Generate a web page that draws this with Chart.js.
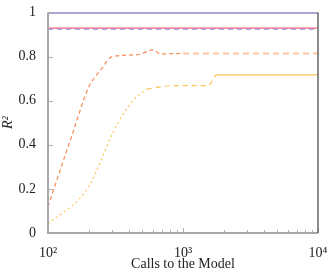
<!DOCTYPE html>
<html>
<head>
<meta charset="utf-8">
<script src="https://cdn.jsdelivr.net/npm/chart.js@4/dist/chart.umd.min.js"></script>
<style>
  html, body { margin: 0; padding: 0; background: #fff; }
  #wrap { width: 333px; height: 273px; }
</style>
</head>
<body>
<div id="wrap"><canvas id="r2Chart"></canvas></div>
<script>
// calls to the model (x) and R^2 values (y)
const callsOrange = [100, 150, 200, 250, 300, 460, 600, 680, 1000];
const r2Orange = [0.12, 0.44, 0.66, 0.745, 0.80, 0.808, 0.83, 0.812, 0.814];
const callsPeach = [1000, 10000];
const r2Peach = [0.814, 0.814];

const callsYellowDot = [100, 200, 300, 370, 440, 540];
const r2YellowDot = [0.04, 0.21, 0.45, 0.55, 0.61, 0.653];
const callsYellowDash = [540, 850, 1530, 1750];
const r2YellowDash = [0.653, 0.668, 0.668, 0.717];
const callsYellowSolid = [1750, 10000];
const r2YellowSolid = [0.717, 0.717];

const callsFlat = [100, 10000];
const r2Top = [1.0, 1.0];
const r2Red = [0.929, 0.929];
const r2Blue = [0.924, 0.924];

const yTicks = [0, 0.2, 0.4, 0.6, 0.8, 1];
const xMajor = { 100: "10²", 1000: "10³", 10000: "10⁴" };

function pts(xs, ys) {
    return xs.map((x, i) => ({ x: x, y: ys[i] }));
}

function line(xs, ys, color, width, dash, tension) {
    return {
        data: pts(xs, ys),
        borderColor: color,
        borderWidth: width,
        borderDash: dash,
        pointRadius: 0,
        fill: false,
        tension: tension || 0,
        cubicInterpolationMode: tension ? "monotone" : "default"
    };
}

// pgfplots-like frame with inward tick marks
const frame = {
    id: "frame",
    afterDatasetsDraw(chart) {
        const ctx = chart.ctx, a = chart.chartArea;
        const xs = chart.scales.x, ys = chart.scales.y;
        ctx.save();
        ctx.strokeStyle = "#b0b0b0";
        ctx.lineWidth = 1;
        ctx.beginPath();
        xs.ticks.forEach(t => {
            const px = Math.round(xs.getPixelForValue(t.value)) + 0.5;
            const len = xMajor[t.value] ? 5 : 3;
            ctx.moveTo(px, a.bottom); ctx.lineTo(px, a.bottom - len);
        });
        ys.ticks.forEach(t => {
            const py = Math.round(ys.getPixelForValue(t.value)) + 0.5;
            ctx.moveTo(a.left, py); ctx.lineTo(a.left + 5, py);
        });
        ctx.stroke();
        ctx.strokeStyle = "#a8a8a8";
        ctx.lineWidth = 2;
        ctx.beginPath();
        ctx.moveTo(a.left, a.top); ctx.lineTo(a.left, a.bottom); ctx.lineTo(a.right, a.bottom);
        ctx.stroke();
        ctx.strokeStyle = "#666";
        ctx.lineWidth = 1.5;
        ctx.beginPath();
        ctx.moveTo(a.right, a.bottom); ctx.lineTo(a.right, a.top);
        ctx.stroke();
        ctx.restore();
    }
};

const serif = "'Liberation Serif', 'DejaVu Serif', serif";

new Chart(document.getElementById("r2Chart"), {
    type: "line",
    data: {
        datasets: [
            line(callsFlat, r2Top, "#524aa8", 2, []),
            line(callsFlat, r2Red, "#f0607a", 1.2, []),
            line(callsFlat, r2Blue, "#a3aaf5", 1.5, [5, 4]),
            line(callsOrange, r2Orange, "#f58a52", 1.2, [4, 3], 0.4),
            line(callsPeach, r2Peach, "#fcc3a3", 2, [6, 4]),
            line(callsYellowDot, r2YellowDot, "#fcc451", 1.2, [2, 3], 0.4),
            line(callsYellowDash, r2YellowDash, "#fcc451", 1.2, [5, 4], 0.4),
            line(callsYellowSolid, r2YellowSolid, "#f7c45c", 1.2, [])
        ]
    },
    options: {
        responsive: true,
        maintainAspectRatio: false,
        animation: false,
        layout: { autoPadding: false, padding: { left: 0, right: 15, top: 9, bottom: 0 } },
        plugins: { legend: { display: false }, tooltip: { enabled: false } },
        scales: {
            x: {
                type: "logarithmic",
                min: 100,
                max: 10000,
                grid: { display: false },
                border: { display: false },
                afterBuildTicks(scale) {
                    const t = [];
                    for (let d = 100; d < 10000; d *= 10)
                        for (let k = 1; k < 10; k++) t.push({ value: d * k });
                    t.push({ value: 10000 });
                    scale.ticks = t;
                },
                afterFit(scale) { scale.height = 40; },
                ticks: {
                    autoSkip: false,
                    maxRotation: 0,
                    padding: 4,
                    color: "#222",
                    font: { family: serif, size: 14 },
                    callback: v => xMajor[v] || ""
                },
                title: {
                    display: true,
                    text: "Calls to the Model",
                    color: "#222",
                    font: { family: serif, size: 14 },
                    padding: { top: 0, bottom: 0 }
                }
            },
            y: {
                min: 0,
                max: 1,
                grid: { display: false },
                border: { display: false },
                afterBuildTicks(scale) { scale.ticks = yTicks.map(v => ({ value: v })); },
                afterFit(scale) { scale.width = 48; },
                ticks: {
                    padding: 4,
                    color: "#222",
                    font: { family: serif, size: 14 },
                    callback: v => String(Math.round(v * 10) / 10)
                },
                title: {
                    display: true,
                    text: "R²",
                    color: "#222",
                    font: { family: serif, size: 14, style: "italic" },
                    padding: { top: 0, bottom: 0 }
                }
            }
        }
    },
    plugins: [frame]
});
</script>
</body>
</html>
